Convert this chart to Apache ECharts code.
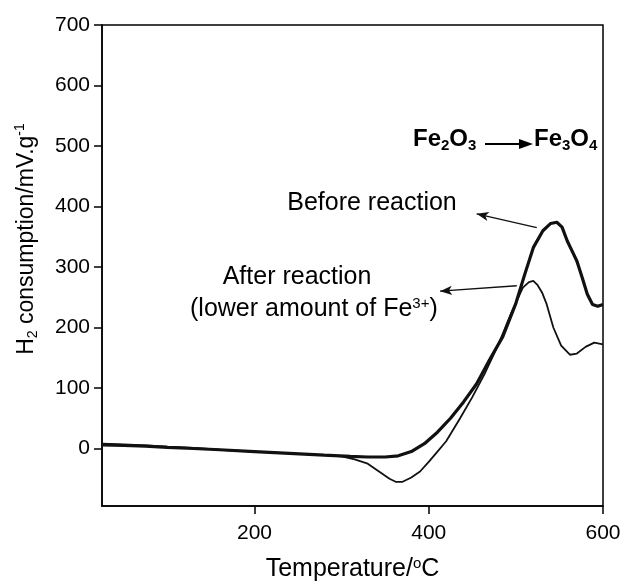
<!DOCTYPE html>
<html>
<head>
<meta charset="utf-8">
<script src="https://cdn.jsdelivr.net/npm/echarts/dist/echarts.min.js"></script>
<style>
  html, body { margin: 0; padding: 0; background: #fff; }
  #chart { width: 621px; height: 583px; }
</style>
</head>
<body>
<div id="chart"></div>
<script>
// TPR traces (temperature in °C, H2 consumption in mV/g)
const beforeTemp = [25, 50, 75, 100, 130, 160, 200, 240, 280, 310, 330, 350, 365, 380, 395, 410, 425, 440, 455, 470, 485, 500, 510, 520, 531, 540, 547, 553, 559, 565, 570, 576, 582, 588, 594, 600];
const beforeH2 = [6, 5, 4, 2, 0, -2, -5, -8, -11, -13, -14, -14, -12, -5, 8, 27, 50, 77, 107, 147, 185, 240, 287, 332, 360, 372, 374, 366, 343, 325, 310, 283, 255, 238, 235, 238];

const afterTemp = [25, 50, 75, 100, 130, 160, 200, 240, 280, 300, 315, 330, 345, 355, 362, 370, 380, 390, 400, 410, 420, 436, 450, 464, 480, 495, 508, 515, 520, 525, 530, 535, 543, 552, 562, 570, 580, 590, 600];
const afterH2 = [8, 7, 5, 3, 1, -2, -5, -8, -11, -13, -18, -25, -40, -50, -55, -55, -48, -38, -22, -5, 12, 50, 85, 123, 172, 225, 266, 275, 277, 270, 258, 240, 200, 170, 155, 157, 168, 175, 172];

const xTicks = [200, 400, 600];
const yTicks = [0, 100, 200, 300, 400, 500, 600, 700];

// label arrows: [from, to] in data units
const beforeArrow = [[524, 365], [455, 388]];
const afterArrow = [[501, 269], [413, 260]];

const FONT = '"Liberation Sans", Arial, sans-serif';

const chart = echarts.init(document.getElementById('chart'));

const zip = (xs, ys) => xs.map((x, i) => [x, ys[i]]);

const boldRich = {
  b: { fontFamily: FONT, fontSize: 24, fontWeight: 'bold', fill: '#000' },
  s: { fontFamily: FONT, fontSize: 15, fontWeight: 'bold', fill: '#000', padding: [13, 0, 0, 0] }
};

chart.setOption({
  animation: false,
  grid: {
    left: 102,
    right: 18,
    top: 25,
    bottom: 77,
    outerBoundsMode: 'none',
    containLabel: false,
    show: true,
    borderColor: '#000',
    borderWidth: 1.5
  },
  xAxis: {
    type: 'value',
    min: 25,
    max: 600,
    name: 'Temperature/{sup|o}C',
    nameLocation: 'middle',
    nameGap: 50,
    nameTextStyle: {
      fontFamily: FONT, fontSize: 25, color: '#000',
      rich: { sup: { fontFamily: FONT, fontSize: 15, verticalAlign: 'top', padding: [0, 0, 12, 0] } }
    },
    axisLine: { show: true, onZero: false, lineStyle: { color: '#000', width: 1.5 } },
    axisTick: { show: true, inside: false, length: 8, customValues: xTicks, lineStyle: { color: '#000', width: 1.5 } },
    axisLabel: { customValues: xTicks, margin: 17, fontFamily: FONT, fontSize: 21, color: '#000' },
    splitLine: { show: false }
  },
  yAxis: {
    type: 'value',
    min: -95,
    max: 700,
    axisLine: { show: true, onZero: false, lineStyle: { color: '#000', width: 1.5 } },
    axisTick: { show: true, inside: false, length: 8, customValues: yTicks, lineStyle: { color: '#000', width: 1.5 } },
    axisLabel: { customValues: yTicks, margin: 12, fontFamily: FONT, fontSize: 21, color: '#000' },
    splitLine: { show: false }
  },
  series: [
    {
      name: 'Before reaction',
      type: 'line',
      data: zip(beforeTemp, beforeH2),
      showSymbol: false,
      lineStyle: { color: '#111', width: 3.2 },
      z: 3,
      markLine: {
        silent: true,
        symbol: ['none', 'arrow'],
        symbolSize: [7, 12],
        label: { show: false },
        lineStyle: { color: '#111', width: 1.3, type: 'solid' },
        data: [
          [{ coord: beforeArrow[0] }, { coord: beforeArrow[1] }],
          [{ coord: afterArrow[0] }, { coord: afterArrow[1] }]
        ]
      }
    },
    {
      name: 'After reaction',
      type: 'line',
      data: zip(afterTemp, afterH2),
      showSymbol: false,
      lineStyle: { color: '#111', width: 1.8 },
      z: 2
    }
  ],
  graphic: [
    {
      // y axis title
      type: 'text', x: 27, y: 239, rotation: Math.PI / 2,
      style: {
        text: '{n|H}{sub|2}{n| consumption/mV.g}{sup|-1}',
        textAlign: 'center',
        textVerticalAlign: 'middle',
        rich: {
          n: { fontFamily: FONT, fontSize: 23, fill: '#000' },
          sub: { fontFamily: FONT, fontSize: 14, fill: '#000', padding: [13, 0, 0, 0] },
          sup: { fontFamily: FONT, fontSize: 14, fill: '#000', padding: [0, 0, 13, 0] }
        }
      }
    },
    {
      type: 'text', left: 413, top: 127,
      style: { text: '{b|Fe}{s|2}{b|O}{s|3}', rich: boldRich }
    },
    {
      type: 'line',
      shape: { x1: 485, y1: 144, x2: 524, y2: 144 },
      style: { stroke: '#000', lineWidth: 2 }
    },
    {
      type: 'polygon',
      shape: { points: [[519, 139], [533, 144], [519, 149]] },
      style: { fill: '#000' }
    },
    {
      type: 'text', left: 534, top: 127,
      style: { text: '{b|Fe}{s|3}{b|O}{s|4}', rich: boldRich }
    },
    {
      type: 'text', x: 372, y: 203,
      style: { text: 'Before reaction', font: '25px ' + FONT, fill: '#000', textAlign: 'center', textVerticalAlign: 'middle' }
    },
    {
      type: 'text', x: 297, y: 277,
      style: { text: 'After reaction', font: '25px ' + FONT, fill: '#000', textAlign: 'center', textVerticalAlign: 'middle' }
    },
    {
      type: 'text', left: 190, top: 296,
      style: {
        text: '{n|(lower amount of Fe}{sup|3+}{n|)}',
        rich: {
          n: { fontFamily: FONT, fontSize: 25, fill: '#000' },
          sup: { fontFamily: FONT, fontSize: 15, fill: '#000', padding: [0, 0, 12, 0] }
        }
      }
    }
  ]
});
</script>
</body>
</html>
